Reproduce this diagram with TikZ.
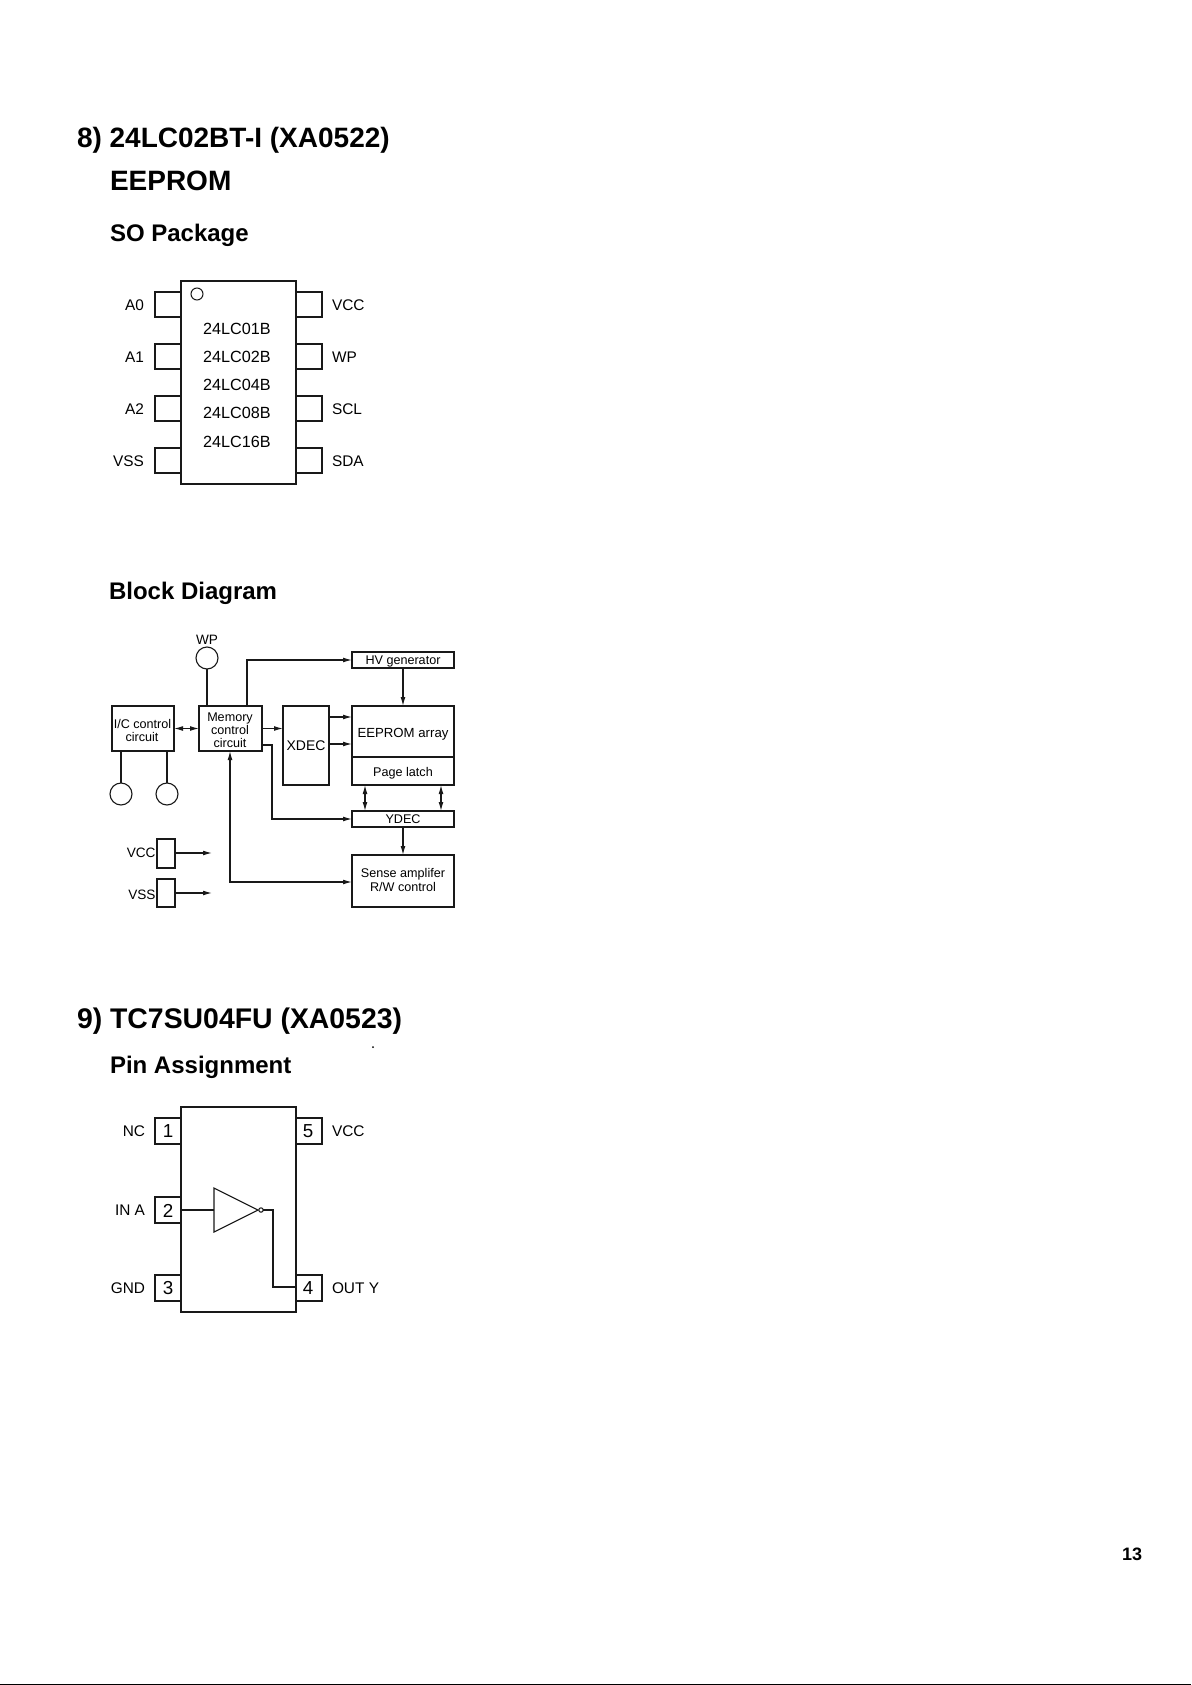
\documentclass[tikz,border=0pt]{standalone}
\usepackage{fontspec}
\setmainfont{Liberation Sans}
\usetikzlibrary{arrows.meta}
\tikzset{
  x=0.5pt,y=-0.5pt,
  every node/.style={inner sep=0pt,outer sep=0pt},
  wire/.style={draw=black!90,line width=0.52pt},
  box/.style={draw=black!90,line width=0.55pt,fill=none},
  arr/.style={wire,-{Latex[length=4.5pt,width=2.4pt]}},
  darr/.style={wire,{Latex[length=4.5pt,width=2.4pt]}-{Latex[length=4.5pt,width=2.4pt]}},
  title/.style={font=\bfseries\fontsize{14}{16}\selectfont,anchor=west},
  head/.style={font=\bfseries\fontsize{12}{14}\selectfont,anchor=west},
  pinl/.style={font=\fontsize{7.7}{9}\selectfont,anchor=east},
  pinr/.style={font=\fontsize{7.7}{9}\selectfont,anchor=west},
  chip/.style={font=\fontsize{8.1}{9}\selectfont},
  blk/.style={font=\fontsize{6.3}{6.6}\selectfont,anchor=base},
  dig/.style={font=\fontsize{9.4}{11}\selectfont},
}
\begin{document}
\begin{tikzpicture}
\useasboundingbox (0,0) rectangle (1191,1685);
% Titles
\node[title] (t8) at (77,140) {8) 24LC02BT-I (XA0522)};
\node[title] (t8b) at (110,180.5) {EEPROM};
\node[head] (so) at (110,235) {SO Package};
\node[head] (bd) at (109,593) {Block Diagram};
\node[title,font=\bfseries\fontsize{14.2}{16}\selectfont] (t9) at (77,1021) {9) TC7SU04FU (XA0523)};
\node[head] (pa) at (110,1067) {Pin Assignment};
\node[font=\bfseries\fontsize{9}{11}\selectfont] (pg) at (1132,1554) {13};
\fill[black] (0,1684) rectangle (1191,1685);

% SO package
\path[box] (181,281) rectangle (296,484);
\draw[wire] (197,294) circle (6);
\foreach \y/\l/\r [count=\i] in {292/A0/VCC,344/A1/WP,396/A2/SCL,448/VSS/SDA}{
  \draw[box] (181,\y) -| (155,\y+25) -- (181,\y+25);
  \draw[box] (296,\y) -| (322,\y+25) -- (296,\y+25);
  \node[pinl] (sl\i) at (144,\y+13.5) {\l};
  \node[pinr] (sr\i) at (332,\y+13.5) {\r};
}
\foreach \y/\t [count=\i] in {329/24LC01B,357/24LC02B,385/24LC04B,413/24LC08B,442/24LC16B}{
  \node[chip] (c\i) at (237,\y) {\t};
}

% Block diagram
\node[box,minimum width=31pt,minimum height=22.5pt] (ic) at (143,728.5) {};
\node[box,minimum width=31.5pt,minimum height=22.5pt] (mem) at (230.5,728.5) {};
\node[box,minimum width=23pt,minimum height=39.5pt,font=\fontsize{7}{8}\selectfont] (xdec) at (306,745.5) {XDEC};
\node[box,minimum width=51pt,minimum height=25.5pt] (arr) at (403,731.5) {};
\node[box,minimum width=51pt,minimum height=14pt] (latch) at (403,771) {};
\node[box,minimum width=51pt,minimum height=8pt] (hv) at (403,660) {};
\node[box,minimum width=51pt,minimum height=8pt] (ydec) at (403,819) {};
\node[box,minimum width=51pt,minimum height=26pt] (sense) at (403,881) {};
\node[blk] (ict1) at (142.5,728.5) {I/C control};
\node[blk] (ict2) at (142,741.5) {circuit};
\node[blk] (memt1) at (230,721.5) {Memory};
\node[blk] (memt2) at (230,734.5) {control};
\node[blk] (memt3) at (230,747.5) {circuit};
\node[blk,font=\fontsize{6.6}{8}\selectfont] (arrt) at (403,737.5) {EEPROM array};
\node[blk] (latcht) at (403,776.5) {Page latch};
\node[blk] (hvt) at (403,664.5) {HV generator};
\node[blk] (ydect) at (403,823.5) {YDEC};
\node[blk] (senset1) at (403,877.5) {Sense amplifer};
\node[blk] (senset2) at (403,891) {R/W control};
\node[draw=black!90,line width=0.55pt,circle,minimum size=11pt] (cwp) at (207,658) {};
\node[font=\fontsize{6.8}{8}\selectfont] (lwp) at (207,640) {WP};
\node[draw=black!90,line width=0.55pt,circle,minimum size=11pt] (c1) at (121,794) {};
\node[draw=black!90,line width=0.55pt,circle,minimum size=11pt] (c2) at (167,794) {};
\node[box,minimum width=9pt,minimum height=14.5pt] (vcc) at (166,853.5) {};
\node[box,minimum width=9pt,minimum height=14pt] (vss) at (166,893) {};
\node[pinl,font=\fontsize{6.8}{8}\selectfont] (lvcc) at (155.5,853) {VCC};
\node[pinl,font=\fontsize{6.8}{8}\selectfont] (lvss) at (155.5,895) {VSS};
\coordinate (evcc) at (212,853);
\coordinate (evss) at (212,893);
\draw[arr] (vcc.east |- evcc) -- (evcc);
\draw[arr] (vss.east |- evss) -- (evss);
\draw[wire] (cwp) -- (cwp |- mem.north);
\draw[wire] (c1 |- ic.south) -- (c1);
\draw[wire] (c2 |- ic.south) -- (c2);
\draw[darr] (ic.east) -- (mem.west);
\draw[arr] (mem.east) -- (xdec.west |- mem.east);
\coordinate (hvs) at (247,706);
\draw[arr] (hvs) |- (hv.west);
\draw[arr] (hv.south) -- (arr.north);
\draw[arr] (329,717) -- (352,717);
\draw[arr] (329,744) -- (352,744);
\draw[arr] (262,745) -- (272,745) |- (ydec.west);
\draw[darr] (365,785) -- (365,811);
\draw[darr] (441,785) -- (441,811);
\draw[arr] (ydec.south) -- (sense.north);
\draw[darr] (230,751) |- (352,882);

% TC7SU04FU
\path[box] (181,1107) rectangle (296,1312);
\foreach \y/\l/\d [count=\i] in {1118/NC/1,1197/IN A/2,1275/GND/3}{
  \draw[box] (181,\y) -| (155,\y+26) -- (181,\y+26);
  \node[dig] (d\i) at (168,\y+13.5) {\d};
  \node[pinl] (pl\i) at (145,\y+13.5) {\l};
}
\foreach \y/\r/\d [count=\i] in {1118/VCC/5,1275/OUT Y/4}{
  \draw[box] (296,\y) -| (322,\y+26) -- (296,\y+26);
  \node[dig] (e\i) at (308,\y+13.5) {\d};
  \node[pinr] (pr\i) at (332,\y+13.5) {\r};
}
\draw[box] (214,1188) -- (258,1210) -- (214,1232) -- cycle;
\draw[wire] (261,1210) circle (2.2);
\draw[wire] (181,1210) -- (214,1210);
\draw[wire] (263.2,1210) -| (273,1287) -- (296,1287);
\fill (373,1047) circle (1);
\end{tikzpicture}
\end{document}
